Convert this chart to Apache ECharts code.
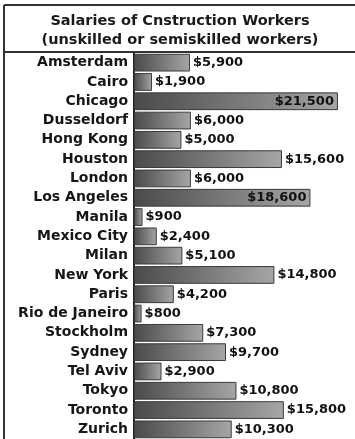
<!DOCTYPE html>
<html>
<head>
<meta charset="utf-8">
<script src="https://cdn.jsdelivr.net/npm/echarts@6/dist/echarts.min.js"></script>
<style>
  html, body { margin: 0; padding: 0; background: #ffffff; }
  #chart { width: 355px; height: 439px; }
</style>
</head>
<body>
<div id="chart"></div>
<script>
// Annual salaries (USD) of unskilled / semiskilled construction workers by city
const cities = [
  'Amsterdam', 'Cairo', 'Chicago', 'Dusseldorf', 'Hong Kong', 'Houston',
  'London', 'Los Angeles', 'Manila', 'Mexico City', 'Milan', 'New York',
  'Paris', 'Rio de Janeiro', 'Stockholm', 'Sydney', 'Tel Aviv', 'Tokyo',
  'Toronto', 'Zurich'
];
const salaries = [
  5900, 1900, 21500, 6000, 5000, 15600,
  6000, 18600, 900, 2400, 5100, 14800,
  4200, 800, 7300, 9700, 2900, 10800,
  15800, 10300
];
// Bars long enough to carry their value label inside
const labelInside = ['Chicago', 'Los Angeles'];

const titleLines = ['Salaries of Cnstruction Workers', '(unskilled or semiskilled workers)'];

const FONT = "'DejaVu Sans', sans-serif";

function money(v) {
  return '$' + v.toLocaleString('en-US');
}

const barFill = new echarts.graphic.LinearGradient(0, 0, 1, 0, [
  { offset: 0, color: '#4a4a4a' },
  { offset: 0.55, color: '#7c7c7c' },
  { offset: 1, color: '#a6a6a6' }
]);

const seriesData = cities.map((c, i) => {
  const item = { value: salaries[i] };
  if (labelInside.includes(c)) {
    item.label = { position: 'insideRight', distance: 4 };
  }
  return item;
});

const chart = echarts.init(document.getElementById('chart'), null, { renderer: 'canvas' });

chart.setOption({
  backgroundColor: '#ffffff',
  animation: false,
  grid: { left: 134, right: 0, top: 53, bottom: 0, containLabel: false },
  xAxis: {
    type: 'value',
    min: 0,
    max: 23300,
    show: false
  },
  yAxis: {
    type: 'category',
    data: cities,
    inverse: true,
    axisTick: { show: false },
    axisLine: { show: true, lineStyle: { color: '#222222', width: 2 } },
    axisLabel: {
      margin: 6,
      color: '#161616',
      fontFamily: FONT,
      fontWeight: 'bold',
      fontSize: 14
    },
    splitLine: { show: false }
  },
  series: [{
    type: 'bar',
    data: seriesData,
    barCategoryGap: '8%',
    itemStyle: {
      color: barFill,
      borderColor: '#3a3a3a',
      borderWidth: 1
    },
    label: {
      show: true,
      position: 'right',
      distance: 3,
      formatter: p => money(p.value),
      color: '#111111',
      fontFamily: FONT,
      fontWeight: 'bold',
      fontSize: 13
    }
  }],
  graphic: [
    // frame: top edge, left edge and the rule under the heading
    { type: 'line', shape: { x1: 4, y1: 5, x2: 355, y2: 5 },
      style: { stroke: '#333333', lineWidth: 2 } },
    { type: 'line', shape: { x1: 4, y1: 5, x2: 4, y2: 439 },
      style: { stroke: '#333333', lineWidth: 2 } },
    { type: 'line', shape: { x1: 4, y1: 52, x2: 355, y2: 52 },
      style: { stroke: '#333333', lineWidth: 2 } },
    { type: 'text', x: 180, y: 21,
      style: { text: titleLines[0], textAlign: 'center', textVerticalAlign: 'middle',
               font: "bold 14.5px 'DejaVu Sans', sans-serif", fill: '#1a1a1a' } },
    { type: 'text', x: 180, y: 40,
      style: { text: titleLines[1], textAlign: 'center', textVerticalAlign: 'middle',
               font: "bold 14.5px 'DejaVu Sans', sans-serif", fill: '#1a1a1a' } }
  ]
});
</script>
</body>
</html>
